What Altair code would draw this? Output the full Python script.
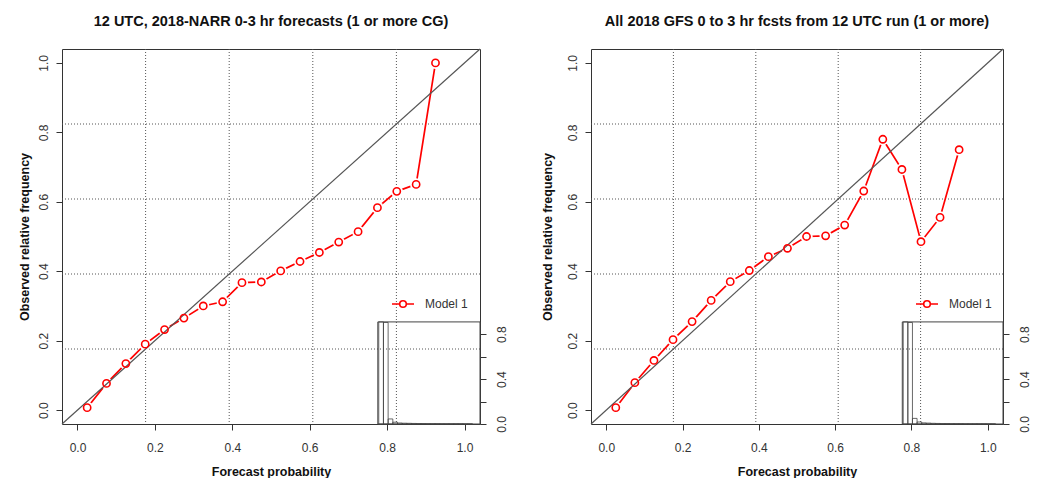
import altair as alt
import pandas as pd

# ---------------- data ----------------
prob_bins = [0.025, 0.075, 0.125, 0.175, 0.225, 0.275, 0.325, 0.375, 0.425, 0.475,
             0.525, 0.575, 0.625, 0.675, 0.725, 0.775, 0.825, 0.875, 0.925]

narr_obs = [0.007, 0.077, 0.134, 0.190, 0.232, 0.265, 0.300, 0.312, 0.367, 0.369,
            0.401, 0.428, 0.454, 0.484, 0.514, 0.583, 0.630, 0.650, 1.000]

gfs_obs = [0.007, 0.079, 0.143, 0.203, 0.255, 0.316, 0.370, 0.402, 0.442, 0.466,
           0.500, 0.502, 0.533, 0.631, 0.780, 0.693, 0.485, 0.555, 0.750]

# inset histogram (relative frequency of forecasts per probability bin)
hist_start = [0.00, 0.05, 0.10, 0.15, 0.20, 0.25, 0.30, 0.35, 0.40, 0.45,
              0.50, 0.55, 0.60, 0.65, 0.70, 0.75, 0.80, 0.85, 0.90, 0.95]
hist_end = [0.05, 0.10, 0.15, 0.20, 0.25, 0.30, 0.35, 0.40, 0.45, 0.50,
            0.55, 0.60, 0.65, 0.70, 0.75, 0.80, 0.85, 0.90, 0.95, 1.00]
narr_hist = [0.91, 0.905, 0.045, 0.016, 0.009, 0.007, 0.006, 0.005, 0.004, 0.004,
             0.003, 0.003, 0.003, 0.002, 0.002, 0.002, 0.002, 0.002, 0.001, 0.001]
gfs_hist = [0.91, 0.905, 0.050, 0.018, 0.010, 0.008, 0.006, 0.005, 0.004, 0.004,
            0.003, 0.003, 0.003, 0.002, 0.002, 0.002, 0.002, 0.002, 0.001, 0.001]

axis_ticks = [0.0, 0.2, 0.4, 0.6, 0.8, 1.0]
grid_lines = [0.176, 0.392, 0.608, 0.824]
diag = [-0.04, 1.04]
inset_ticks = [0.0, 0.2, 0.4, 0.6, 0.8]

titles = ["12 UTC, 2018-NARR 0-3 hr forecasts (1 or more CG)",
          "All 2018 GFS 0 to 3 hr fcsts from 12 UTC run (1 or more)"]

# ---------------- layout / style ----------------
DOM = [-0.04, 1.04]
INSET_X = [0.776, 1.04]
INSET_Y = [-0.04, 0.254]
FONT = "Liberation Sans"
DARK = "#333333"
RED = "#ff0000"

legend_path = ("M-1,0L-0.3,0M0.3,0L1,0"
               "M0.3,0A0.3,0.3,0,1,1,-0.3,0A0.3,0.3,0,1,1,0.3,0Z")


def make_panel(title, obs, hist, W, H, ytitle_pad, legend_x, legend_y):
    xs = alt.Scale(domain=DOM, nice=False, zero=False)
    ys = alt.Scale(domain=DOM, nice=False, zero=False)
    xaxis = alt.Axis(values=axis_ticks, format=".1f", title="Forecast probability",
                     grid=False, domain=False, tickSize=6, labelPadding=12,
                     titlePadding=12)
    yaxis = alt.Axis(values=axis_ticks, format=".1f", title="Observed relative frequency",
                     grid=False, domain=False, tickSize=6, labelAngle=270,
                     labelAlign="center", labelBaseline="bottom", labelPadding=6,
                     titlePadding=ytitle_pad)

    def X(f):
        return alt.X(f, type="quantitative", scale=xs, axis=xaxis)

    def Y(f):
        return alt.Y(f, type="quantitative", scale=ys, axis=yaxis)

    gdf = pd.DataFrame({"g": grid_lines})
    vgrid = alt.Chart(gdf).mark_rule(color="#555555", strokeDash=[1, 2], strokeWidth=1).encode(x=X("g"))
    hgrid = alt.Chart(gdf).mark_rule(color="#555555", strokeDash=[1, 2], strokeWidth=1).encode(y=Y("g"))

    bdf = pd.DataFrame({"x0": [INSET_X[0]], "x1": [INSET_X[1]],
                        "y0": [INSET_Y[0]], "y1": [INSET_Y[1]]})
    box = alt.Chart(bdf).mark_rect(fillOpacity=0, stroke="#444444", strokeWidth=1).encode(
        x=X("x0"), x2="x1", y=Y("y0"), y2="y1")

    ddf = pd.DataFrame({"d": diag})
    diag_line = alt.Chart(ddf).mark_line(color="#555555", strokeWidth=1.2).encode(x=X("d"), y=Y("d"))

    df = pd.DataFrame({"p": prob_bins, "o": obs, "series": ["Model 1"] * len(obs)})
    line = alt.Chart(df).mark_line(strokeWidth=1.7).encode(
        x=X("p"), y=Y("o"),
        color=alt.Color("series:N",
                        scale=alt.Scale(domain=["Model 1"], range=[RED]),
                        legend=alt.Legend(orient="none", legendX=legend_x, legendY=legend_y,
                                          title=None, symbolType=legend_path,
                                          symbolSize=484, symbolStrokeWidth=1.6,
                                          symbolFillColor="white",
                                          labelFontSize=12, labelColor=DARK,
                                          labelFont=FONT, labelOffset=10,
                                          padding=0)))
    halo = alt.Chart(df).mark_point(shape="circle", filled=True, color="white",
                                    size=150, opacity=1).encode(x=X("p"), y=Y("o"))
    pts = alt.Chart(df).mark_point(shape="circle", filled=False, color=RED,
                                   size=52, strokeWidth=1.6, opacity=1).encode(x=X("p"), y=Y("o"))

    main = alt.layer(vgrid, hgrid, box, line, halo, diag_line, pts)

    # inset histogram on its own scales, placed in the lower-right corner
    rx0 = (INSET_X[0] - DOM[0]) / (DOM[1] - DOM[0]) * W
    ry1 = H - (INSET_Y[1] - DOM[0]) / (DOM[1] - DOM[0]) * H
    hdf = pd.DataFrame({"b0": hist_start, "b1": hist_end, "h": hist, "z": [0.0] * len(hist)})
    hist_chart = alt.Chart(hdf).mark_rect(fillOpacity=0, stroke="#444444", strokeWidth=0.8).encode(
        x=alt.X("b0:Q", scale=alt.Scale(domain=[-0.01, 1.08], range=[rx0, W], nice=False, zero=False),
                axis=None),
        x2="b1",
        y=alt.Y("h:Q", scale=alt.Scale(domain=[0, 0.91], range=[H, ry1], nice=False, zero=False),
                axis=alt.Axis(orient="right", values=inset_ticks, title=None, grid=False,
                              domain=False, tickSize=6, labelAngle=270, labelAlign="center",
                              labelBaseline="top", labelPadding=10,
                              labelExpr="(datum.value == 0 || datum.value == 0.4 || datum.value == 0.8) ? format(datum.value, '.1f') : ''")),
        y2="z")

    return alt.layer(main, hist_chart).resolve_scale(x="independent", y="independent").properties(
        width=W, height=H,
        title=alt.Title(title, fontSize=14.5, fontWeight="bold", font=FONT, color="#111111",
                        anchor="middle", frame="group", offset=17))


left = make_panel(titles[0], narr_obs, narr_hist, 418, 375, 6, 329, 243)
right = make_panel(titles[1], gfs_obs, gfs_hist, 412, 375, 11.5, 324, 243)

chart = alt.hconcat(left, right, spacing=33).resolve_legend(color="independent").properties(
    padding={"left": 9, "top": 5, "right": 0, "bottom": 0}
).configure(font=FONT).configure_view(stroke=DARK, strokeWidth=1).configure_axis(
    labelFont=FONT, labelFontSize=12, labelColor=DARK, tickColor=DARK,
    titleFont=FONT, titleFontSize=12.5, titleFontWeight="bold", titleColor="#111111")

chart.save("out.html", embed_options={"renderer": "svg", "actions": False})
